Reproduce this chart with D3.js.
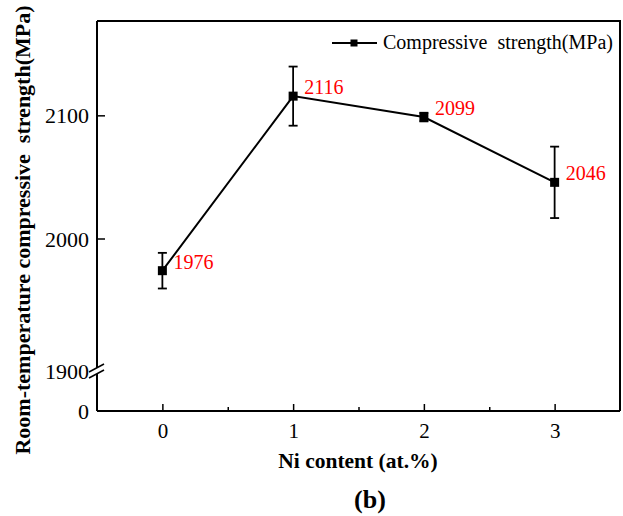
<!DOCTYPE html>
<html lang="en">
<head>
  <meta charset="UTF-8">
  <title>Compressive strength vs Ni content</title>
  <script src="https://d3js.org/d3.v7.min.js"></script>
  <style>
    body { margin: 0; background: #fff; }
    svg text { font-family: "Liberation Serif", "Times New Roman", serif; }
  </style>
</head>
<body>
<div id="chartContainer"></div>
<script>
  // data
  const niContent = [0, 1, 2, 3];
  const strength = [1976, 2116, 2099, 2046];
  const errors = [13.5, 24, 3.5, 29];
  const pointLabels = ["1976", "2116", "2099", "2046"];
  const yTicks = [0, 1900, 2000, 2100];
  const xTicks = [0, 1, 2, 3];
  const xMinorTicks = [0.5, 1.5, 2.5];

  const width = 623, height = 516;
  const plotLeft = 97, plotRight = 620, plotTop = 21, plotBottom = 411;

  const svg = d3.select("#chartContainer")
    .append("svg")
    .attr("width", width)
    .attr("height", height);

  const xScale = d3.scaleLinear().domain([-0.5, 3.5]).range([plotLeft, plotRight]);
  // broken axis: 0 at the bottom, then jump to 1900
  const yScale = d3.scaleLinear()
    .domain([0, 1900, 2000, 2177])
    .range([plotBottom, 371, 239, plotTop]);

  // frame (top and right)
  svg.append("path")
    .attr("d", `M${plotLeft},${plotTop}H${plotRight}V${plotBottom}`)
    .attr("fill", "none").attr("stroke", "#000").attr("stroke-width", 2);

  // x axis
  const xAxis = d3.axisBottom(xScale).tickValues(xTicks).tickSize(-7).tickPadding(12)
    .tickFormat(d3.format("d"));
  const gx = svg.append("g").attr("transform", `translate(0,${plotBottom})`).call(xAxis);
  gx.select(".domain").remove();
  gx.selectAll(".tick line").attr("stroke-width", 1.5);
  gx.selectAll(".tick text").attr("font-size", 21).attr("fill", "#000");
  svg.append("g").attr("transform", `translate(0,${plotBottom})`)
    .call(d3.axisBottom(xScale).tickValues(xMinorTicks).tickSize(-4).tickFormat(""))
    .call(g => g.select(".domain").remove())
    .selectAll(".tick line").attr("stroke-width", 1.5);
  svg.append("line")
    .attr("x1", plotLeft).attr("x2", plotRight).attr("y1", plotBottom).attr("y2", plotBottom)
    .attr("stroke", "#000").attr("stroke-width", 2);

  // y axis
  const yAxis = d3.axisLeft(yScale).tickValues(yTicks).tickSize(0).tickPadding(8)
    .tickFormat(d3.format("d"));
  const gy = svg.append("g").attr("transform", `translate(${plotLeft},0)`).call(yAxis);
  gy.select(".domain").remove();
  gy.selectAll(".tick text").attr("font-size", 22).attr("fill", "#000");
  svg.selectAll(".ytick")
    .data(yTicks.filter(d => d > 1900))
    .enter().append("line")
    .attr("x1", plotLeft).attr("x2", plotLeft + 8)
    .attr("y1", d => yScale(d)).attr("y2", d => yScale(d))
    .attr("stroke", "#000").attr("stroke-width", 1.5);

  // y axis line with break
  const brk = yScale(1900);
  svg.append("line")
    .attr("x1", plotLeft).attr("x2", plotLeft).attr("y1", plotTop).attr("y2", brk - 3)
    .attr("stroke", "#000").attr("stroke-width", 2);
  svg.append("line")
    .attr("x1", plotLeft).attr("x2", plotLeft).attr("y1", brk + 3).attr("y2", plotBottom)
    .attr("stroke", "#000").attr("stroke-width", 2);
  [-3, 3].forEach(off => {
    svg.append("line")
      .attr("x1", plotLeft - 8).attr("y1", brk + off + 4)
      .attr("x2", plotLeft + 7).attr("y2", brk + off - 4)
      .attr("stroke", "#000").attr("stroke-width", 1.5);
  });

  // connecting line
  const line = d3.line().x((d, i) => xScale(niContent[i])).y(d => yScale(d));
  svg.append("path")
    .datum(strength)
    .attr("d", line)
    .attr("fill", "none").attr("stroke", "#000").attr("stroke-width", 2);

  // error bars
  const eb = svg.selectAll(".err").data(strength).enter().append("g");
  eb.append("line")
    .attr("x1", (d, i) => xScale(niContent[i])).attr("x2", (d, i) => xScale(niContent[i]))
    .attr("y1", (d, i) => yScale(d - errors[i])).attr("y2", (d, i) => yScale(d + errors[i]))
    .attr("stroke", "#000").attr("stroke-width", 1.8);
  [-1, 1].forEach(s => {
    eb.append("line")
      .attr("x1", (d, i) => xScale(niContent[i]) - 4.5).attr("x2", (d, i) => xScale(niContent[i]) + 4.5)
      .attr("y1", (d, i) => yScale(d + s * errors[i])).attr("y2", (d, i) => yScale(d + s * errors[i]))
      .attr("stroke", "#000").attr("stroke-width", 1.8);
  });

  // markers
  svg.selectAll(".pt").data(strength).enter().append("rect")
    .attr("x", (d, i) => xScale(niContent[i]) - 4.5)
    .attr("y", d => yScale(d) - 4.5)
    .attr("width", 9).attr("height", 9)
    .attr("fill", "#000");

  // value labels
  svg.selectAll(".lbl").data(strength).enter().append("text")
    .attr("x", (d, i) => xScale(niContent[i]) + 11)
    .attr("y", d => yScale(d) - 2)
    .attr("font-size", 20)
    .attr("fill", "#ff0000")
    .text((d, i) => pointLabels[i]);

  // legend
  svg.append("line").attr("x1", 332).attr("x2", 377).attr("y1", 43).attr("y2", 43)
    .attr("stroke", "#000").attr("stroke-width", 2);
  svg.append("rect").attr("x", 350.5).attr("y", 39.5).attr("width", 7).attr("height", 7).attr("fill", "#000");
  svg.append("text").attr("x", 383).attr("y", 49).attr("font-size", 20)
    .attr("xml:space", "preserve")
    .text("Compressive  strength(MPa)");

  // axis titles
  svg.append("text")
    .attr("transform", `translate(30,230) rotate(-90)`)
    .attr("text-anchor", "middle").attr("font-size", 22).attr("font-weight", "bold")
    .attr("xml:space", "preserve")
    .text("Room-temperature compressive  strength(MPa)");
  svg.append("text")
    .attr("x", 358).attr("y", 468).attr("text-anchor", "middle")
    .attr("font-size", 21.5).attr("font-weight", "bold")
    .text("Ni content (at.%)");
  svg.append("text")
    .attr("x", 370).attr("y", 508).attr("text-anchor", "middle")
    .attr("font-size", 26).attr("font-weight", "bold")
    .text("(b)");
</script>
</body>
</html>
